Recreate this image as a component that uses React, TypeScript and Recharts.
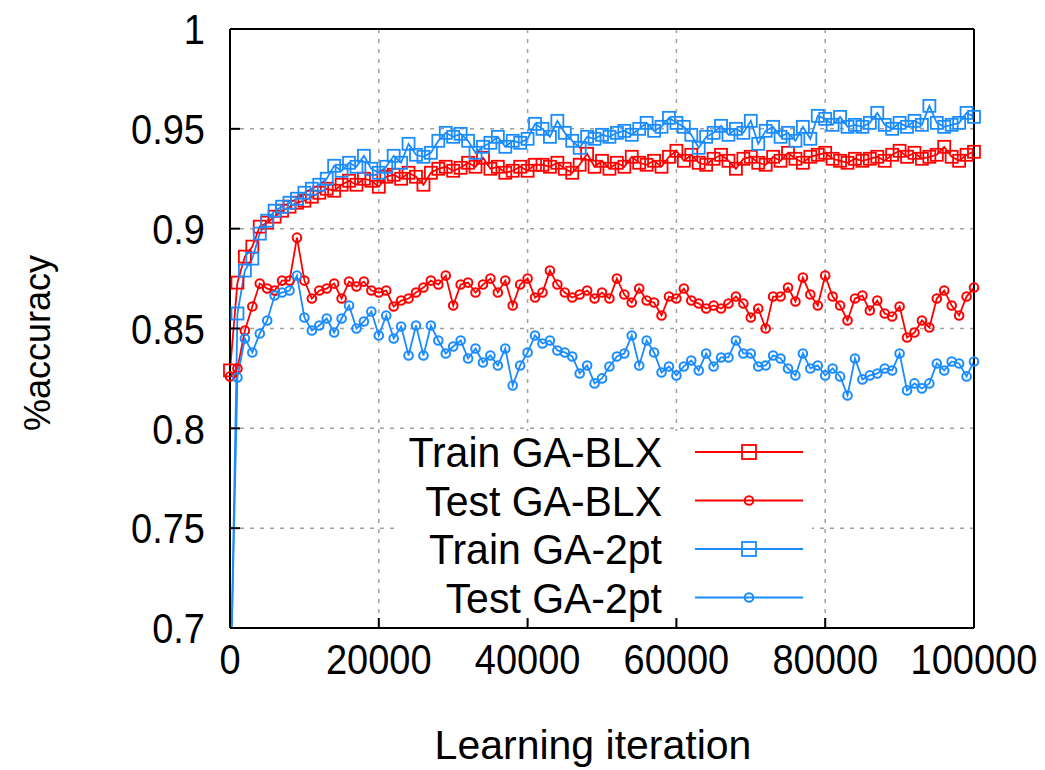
import React from "react";
import { LineChart, Line, XAxis, YAxis, CartesianGrid } from "recharts";

// one sample every 1000 iterations, 0 .. 100000
const STEP = 1000;

const trainBLX = [
  0.829, 0.873, 0.886, 0.891, 0.901, 0.903, 0.906, 0.909, 0.911, 0.913,
  0.914, 0.916, 0.918, 0.92, 0.919, 0.922, 0.924, 0.922, 0.925, 0.924,
  0.921, 0.926, 0.927, 0.925, 0.928, 0.926, 0.922, 0.928, 0.93, 0.931,
  0.929, 0.9305, 0.933, 0.931, 0.9355, 0.93, 0.931, 0.928, 0.929, 0.931,
  0.929, 0.932, 0.932, 0.931, 0.933, 0.93, 0.928, 0.932, 0.9375, 0.931,
  0.934, 0.93, 0.933, 0.931, 0.936, 0.933, 0.932, 0.934, 0.931, 0.936,
  0.939, 0.934, 0.937, 0.933, 0.932, 0.935, 0.937, 0.934, 0.93, 0.935,
  0.936, 0.933, 0.932, 0.936, 0.934, 0.938, 0.935, 0.933, 0.936, 0.937,
  0.938, 0.935, 0.934, 0.933, 0.935, 0.934, 0.935, 0.936, 0.934, 0.937,
  0.939, 0.936, 0.938, 0.935, 0.936, 0.937, 0.941, 0.936, 0.934, 0.937,
  0.9385,
];

const testBLX = [
  0.826, 0.83, 0.849, 0.861, 0.8725, 0.87, 0.869, 0.874, 0.874, 0.8955,
  0.874, 0.865, 0.869, 0.87, 0.8725, 0.865, 0.8735, 0.871, 0.8735, 0.869,
  0.868, 0.869, 0.861, 0.864, 0.865, 0.868, 0.8705, 0.874, 0.872, 0.8765,
  0.8615, 0.872, 0.873, 0.868, 0.872, 0.875, 0.868, 0.874, 0.8615, 0.872,
  0.875, 0.8655, 0.868, 0.879, 0.872, 0.868, 0.8655, 0.867, 0.869, 0.865,
  0.868, 0.865, 0.875, 0.867, 0.863, 0.87, 0.864, 0.863, 0.8565, 0.866,
  0.865, 0.87, 0.864, 0.8625, 0.86, 0.8615, 0.86, 0.8625, 0.866, 0.8625,
  0.8555, 0.86, 0.85, 0.866, 0.866, 0.8705, 0.8635, 0.8755, 0.867, 0.8615,
  0.8765, 0.866, 0.8615, 0.854, 0.865, 0.8665, 0.859, 0.864, 0.8575, 0.856,
  0.861, 0.8455, 0.848, 0.854, 0.8505, 0.865, 0.869, 0.8615, 0.8565, 0.866,
  0.8705,
];

const train2pt = [
  0.65, 0.8575, 0.879, 0.885, 0.8975, 0.904, 0.909, 0.911, 0.913, 0.915,
  0.918, 0.92, 0.922, 0.925, 0.9315, 0.929, 0.933, 0.931, 0.9365, 0.93,
  0.928, 0.931, 0.9365, 0.933, 0.9425, 0.937, 0.936, 0.938, 0.944, 0.948,
  0.946, 0.9475, 0.944, 0.938, 0.941, 0.943, 0.946, 0.941, 0.944, 0.943,
  0.945, 0.9525, 0.95, 0.946, 0.954, 0.948, 0.944, 0.9405, 0.946, 0.945,
  0.947, 0.946, 0.948, 0.949, 0.947, 0.95, 0.953, 0.949, 0.951, 0.9555,
  0.953, 0.951, 0.947, 0.9405, 0.946, 0.948, 0.9515, 0.947, 0.95, 0.948,
  0.954, 0.9425, 0.949, 0.951, 0.946, 0.948, 0.944, 0.951, 0.945, 0.9565,
  0.955, 0.952, 0.956, 0.951, 0.952, 0.951, 0.953, 0.958, 0.952, 0.95,
  0.953, 0.951, 0.954, 0.952, 0.9615, 0.953, 0.951, 0.952, 0.953, 0.958,
  0.956,
];

const test2pt = [
  0.66, 0.8255, 0.845, 0.838, 0.8475, 0.854, 0.8665, 0.868, 0.869, 0.8765,
  0.8555, 0.849, 0.8515, 0.855, 0.848, 0.855, 0.8615, 0.85, 0.8535, 0.8585,
  0.8465, 0.8565, 0.845, 0.851, 0.8365, 0.8515, 0.8365, 0.8515, 0.844, 0.8375,
  0.841, 0.844, 0.835, 0.84, 0.833, 0.8365, 0.8315, 0.84, 0.8215, 0.8315,
  0.838, 0.8465, 0.8425, 0.844, 0.839, 0.838, 0.836, 0.8275, 0.8315, 0.8225,
  0.825, 0.831, 0.836, 0.8375, 0.8465, 0.8315, 0.844, 0.838, 0.828, 0.831,
  0.8265, 0.831, 0.834, 0.829, 0.8375, 0.831, 0.8355, 0.8355, 0.844, 0.8375,
  0.8375, 0.831, 0.8315, 0.8365, 0.835, 0.83, 0.8265, 0.8375, 0.83, 0.8315,
  0.8265, 0.83, 0.826, 0.8165, 0.835, 0.8245, 0.8265, 0.8275, 0.83, 0.829,
  0.8375, 0.819, 0.8225, 0.82, 0.8225, 0.8325, 0.829, 0.8335, 0.8325, 0.826,
  0.8335,
];

const seriesKeys = ["trainBLX", "testBLX", "train2pt", "test2pt"];
const seriesNames = ["Train GA-BLX", "Test GA-BLX", "Train GA-2pt", "Test GA-2pt"];
const xTicks = [0, 20000, 40000, 60000, 80000, 100000];
const yTicks = [0.7, 0.75, 0.8, 0.85, 0.9, 0.95, 1];

const data = trainBLX.map((v, i) => ({
  it: i * STEP,
  trainBLX: v,
  testBLX: testBLX[i],
  train2pt: train2pt[i],
  test2pt: test2pt[i],
}));

const RED = "#ff0000";
const BLUE = "#1a8cff";
const colors = [RED, RED, BLUE, BLUE];
const markers = ["square", "circle", "square", "circle"];
const FONT = "'Liberation Sans', Arial, Helvetica, sans-serif";
const STRETCH = 1.12; // reference glyphs are a bit taller than Arial

const makeDot = (color: string, kind: string) => (props: any) => {
  const { cx, cy, index } = props;
  if (cx == null || cy == null) return <g key={index} />;
  if (kind === "square") {
    return (
      <rect key={index} x={cx - 6} y={cy - 6} width={12} height={12}
        fill="none" stroke={color} strokeWidth={1.8} />
    );
  }
  return <circle key={index} cx={cx} cy={cy} r={4.3} fill="none" stroke={color} strokeWidth={2} />;
};

const axisLine = { stroke: "#000", strokeWidth: 2 };
const tickLine = { stroke: "#000", strokeWidth: 2 };

const stretch = (x: number, y: number) =>
  `translate(${x},${y}) scale(1,${STRETCH}) translate(${-x},${-y})`;

const YTick = (props: any) => {
  const { x, y, payload } = props;
  return (
    <text x={x} y={y} dy="0.36em" textAnchor="end" fontSize={38} fontFamily={FONT} fill="#000"
      transform={stretch(x, y)}>
      {String(payload.value)}
    </text>
  );
};

const XTick = (props: any) => {
  const { x, y, payload } = props;
  return (
    <text x={x} y={y} dy="0.72em" textAnchor="middle" fontSize={38} fontFamily={FONT} fill="#000"
      transform={stretch(x, y)}>
      {String(payload.value)}
    </text>
  );
};

export default function App() {
  return (
    <div style={{ position: "absolute", left: 0, top: 0, width: 1045, height: 770, background: "#fff" }}>
      <LineChart width={1045} height={770} data={data}
        margin={{ top: 28, right: 70, bottom: 0, left: 0 }}>
        <CartesianGrid xAxisId="b" yAxisId="l" stroke="#a0a0a0" strokeDasharray="4 6" strokeWidth={1.5} />
        <XAxis xAxisId="b" dataKey="it" type="number" domain={[0, 100000]} ticks={xTicks}
          orientation="bottom" height={142} tickSize={-10} tickMargin={25}
          axisLine={axisLine} tickLine={tickLine} tick={<XTick />} interval={0} />
        <XAxis xAxisId="t" dataKey="it" type="number" domain={[0, 100000]} ticks={xTicks}
          orientation="top" height={1} tickSize={-10}
          axisLine={axisLine} tickLine={tickLine} tick={false} interval={0} />
        <YAxis yAxisId="l" type="number" domain={[0.7, 1]} ticks={yTicks} allowDataOverflow
          width={230} tickSize={-10} tickMargin={35}
          axisLine={axisLine} tickLine={tickLine} tick={<YTick />} interval={0} />
        <YAxis yAxisId="r" orientation="right" type="number" domain={[0.7, 1]} ticks={yTicks}
          allowDataOverflow width={1} tickSize={-10}
          axisLine={axisLine} tickLine={tickLine} tick={false} interval={0} />
        {seriesKeys.map((k, i) => (
          <Line key={k} xAxisId="b" yAxisId="l" type="linear" dataKey={k} name={seriesNames[i]}
            stroke={colors[i]} strokeWidth={1.8} dot={makeDot(colors[i], markers[i])}
            activeDot={false} isAnimationActive={false} />
        ))}
      </LineChart>
      <svg width={1045} height={770} style={{ position: "absolute", left: 0, top: 0, pointerEvents: "none" }}
        fontFamily={FONT}>
        <rect x={398} y={431} width={414} height={183} fill="#fff" />
        {seriesNames.map((n, i) => {
          const y = 452 + i * 48.5;
          return (
            <g key={n}>
              <text x={662} y={y} dy="0.35em" textAnchor="end" fontSize={41} fill="#000"
                transform={`translate(0,${y}) scale(1,1.05) translate(0,${-y})`}>{n}</text>
              <line x1={695} x2={803} y1={y} y2={y} stroke={colors[i]} strokeWidth={2} />
              {markers[i] === "square" ? (
                <rect x={742} y={y - 7} width={14} height={14} fill="none" stroke={colors[i]} strokeWidth={1.8} />
              ) : (
                <circle cx={749} cy={y} r={4.3} fill="none" stroke={colors[i]} strokeWidth={2} />
              )}
            </g>
          );
        })}
        <text x={37} y={343} dy="0.35em" textAnchor="middle" fontSize={36} fill="#000"
          transform="rotate(-90 37 343)">%accuracy</text>
        <text x={593} y={745} dy="0.33em" textAnchor="middle" fontSize={41} fill="#000">Learning iteration</text>
      </svg>
    </div>
  );
}
